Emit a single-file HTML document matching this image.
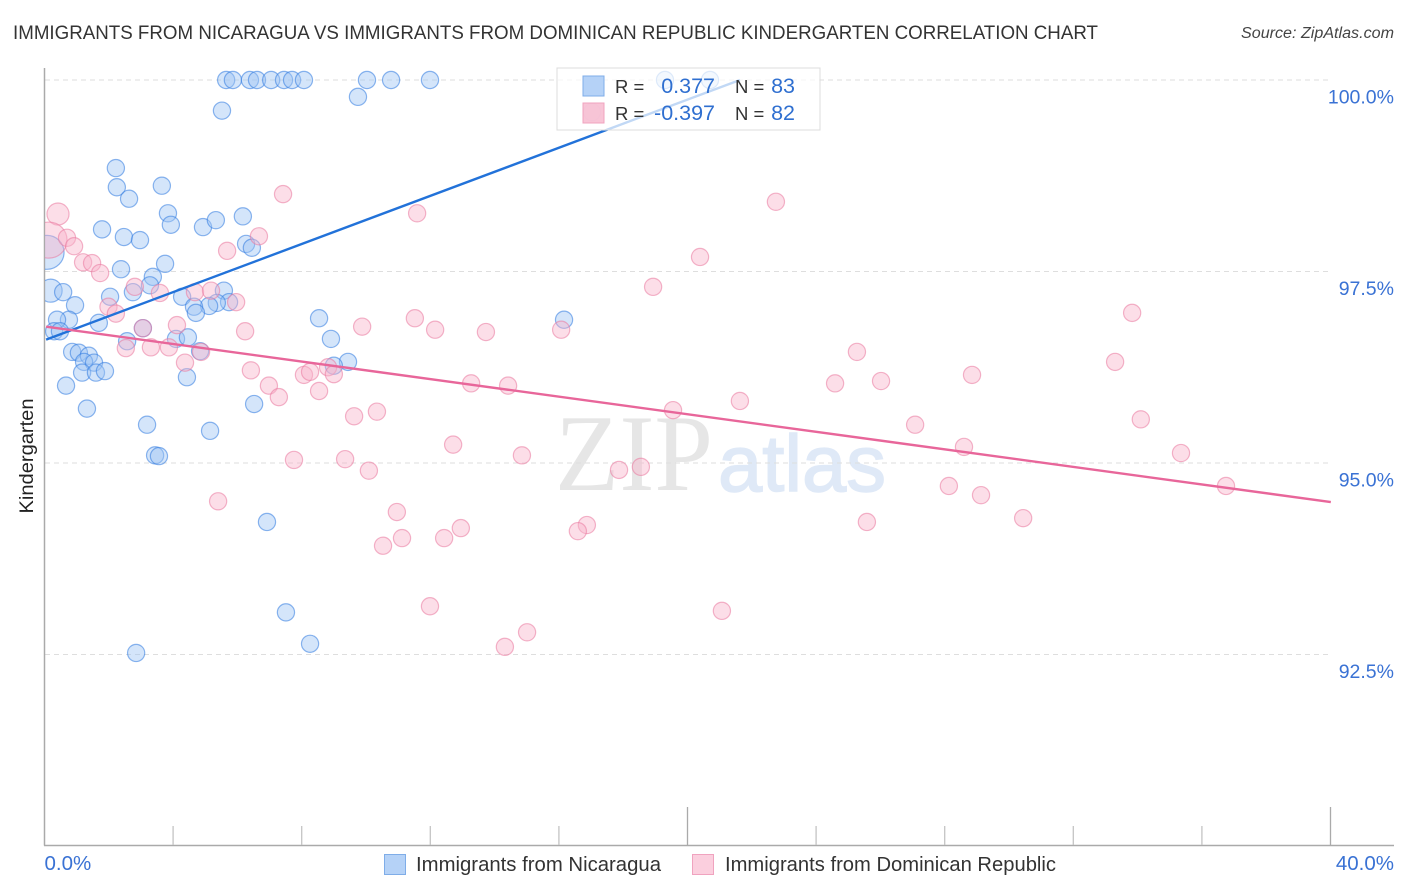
<!DOCTYPE html>
<html lang="en">
<head>
<meta charset="utf-8">
<title>Immigrants from Nicaragua vs Immigrants from Dominican Republic Kindergarten Correlation Chart</title>
<style>
html,body{margin:0;padding:0;background:#fff;width:1406px;height:892px;overflow:hidden}
svg{display:block;font-family:"Liberation Sans",sans-serif}
</style>
</head>
<body>
<svg id="chart" xmlns="http://www.w3.org/2000/svg" width="1406" height="892" viewBox="0 0 1406 892">
  <defs><clipPath id="plot-clip"><rect x="45" y="60" width="1349" height="785"/></clipPath></defs>
  <text x="13" y="39" font-size="19.5" fill="#333" textLength="1085" lengthAdjust="spacingAndGlyphs">IMMIGRANTS FROM NICARAGUA VS IMMIGRANTS FROM DOMINICAN REPUBLIC KINDERGARTEN CORRELATION CHART</text>
  <text x="1241" y="38" font-size="15.5" font-style="italic" fill="#444" textLength="153" lengthAdjust="spacingAndGlyphs">Source: ZipAtlas.com</text>
  <g id="watermark">
    <text x="555" y="490" font-family="'Liberation Serif',serif" font-size="109" fill="#e6e6e6" textLength="158" lengthAdjust="spacingAndGlyphs">ZIP</text>
    <text x="718" y="491" font-size="80" fill="#dfe9f7" stroke="#dfe9f7" stroke-width="1.5" textLength="168" lengthAdjust="spacingAndGlyphs">atlas</text>
  </g>
  <g id="grid"></g>
  <g id="axes"></g>
  <g id="points" clip-path="url(#plot-clip)"></g>
  <g id="trends"></g>
  <text transform="translate(33,456) rotate(-90)" font-size="19.5" fill="#222" text-anchor="middle" textLength="115" lengthAdjust="spacingAndGlyphs">Kindergarten</text>
  <g>
    <rect x="557" y="68" width="263" height="62" fill="#fff" fill-opacity="0.72" stroke="#dcdcdc" stroke-width="1"/>
    <rect x="583" y="76" width="21" height="20" fill="#b5d2f7" stroke="#7fade8" stroke-width="1"/>
    <rect x="583" y="103" width="21" height="20" fill="#f7bed2" fill-opacity="0.9" stroke="#f0a3bf" stroke-width="1"/>
    <g font-size="20">
      <text x="615" y="93" fill="#333" font-size="18.5">R =</text>
      <text x="715" y="93" fill="#2f6fd0" text-anchor="end" font-size="21.5">0.377</text>
      <text x="735" y="93" fill="#333" font-size="18.5">N =</text>
      <text x="795" y="93" fill="#2f6fd0" text-anchor="end" font-size="21.5">83</text>
      <text x="615" y="120" fill="#333" font-size="18.5">R =</text>
      <text x="715" y="120" fill="#2f6fd0" text-anchor="end" font-size="21.5">-0.397</text>
      <text x="735" y="120" fill="#333" font-size="18.5">N =</text>
      <text x="795" y="120" fill="#2f6fd0" text-anchor="end" font-size="21.5">82</text>
    </g>
  </g>
  <g>
    <rect x="384.5" y="854.5" width="21" height="20" fill="#b5d2f7" stroke="#7fade8" stroke-width="1"/>
    <text x="416" y="871" font-size="20" fill="#333" textLength="245" lengthAdjust="spacingAndGlyphs">Immigrants from Nicaragua</text>
    <rect x="692.5" y="854.5" width="21" height="20" fill="#fbcfde" stroke="#f0a3bf" stroke-width="1"/>
    <text x="725" y="871" font-size="20" fill="#333" textLength="331" lengthAdjust="spacingAndGlyphs">Immigrants from Dominican Republic</text>
  </g>
</svg>
<script>
const yTickValues = [100, 97.5, 95, 92.5];
const yTickLabels = ["100.0%", "97.5%", "95.0%", "92.5%"];
const xTickValues = [4, 8, 12, 16, 20, 24, 28, 32, 36, 40];
const xMajorTicks = [20, 40];
const xEndValues = [0, 40];
const xEndLabels = ["0.0%", "40.0%"];

const nicaraguaX = [5.65,5.86,6.39,6.61,7.05,7.45,7.70,8.07,10.03,10.78,11.99,9.75,5.52,2.22,2.25,2.63,3.65,3.84,3.93,1.79,2.47,2.97,4.93,5.33,6.17,6.27,6.45,2.38,3.75,3.37,3.28,2.75,2.04,4.28,5.58,5.74,5.36,5.12,4.65,4.71,0.95,0.58,0.76,0.39,1.69,0.30,0.48,3.06,2.57,4.09,4.46,8.54,8.91,16.16,0.86,1.07,1.38,1.23,1.54,1.17,1.60,1.88,4.84,4.43,0.67,1.32,3.19,5.15,3.44,3.56,6.52,9.44,9.00,6.92,7.51,8.26,2.85,19.30,20.70,17.03];
const nicaraguaY = [100,100,100,100,100,100,100,100,100,100,100,99.78,99.60,98.85,98.60,98.45,98.62,98.26,98.11,98.05,97.95,97.91,98.08,98.17,98.22,97.86,97.81,97.53,97.60,97.43,97.32,97.23,97.17,97.17,97.25,97.10,97.09,97.05,97.04,96.96,97.06,97.23,96.87,96.87,96.83,96.72,96.72,96.76,96.59,96.62,96.64,96.89,96.62,96.87,96.45,96.44,96.40,96.32,96.31,96.18,96.18,96.20,96.46,96.12,96.01,95.71,95.50,95.42,95.10,95.09,95.77,96.32,96.27,94.23,93.05,92.64,92.52,100,100,99.58];
const nicaraguaHeavyX = [0.08,0.19];
const nicaraguaHeavyY = [97.75,97.25];
const nicaraguaHeavyWeight = [3.9,1.8];

const dominicanX = [7.42,0.70,0.92,1.20,1.48,1.73,11.59,22.75,6.67,5.68,20.39,18.93,2.81,3.59,4.68,5.18,5.96,1.99,2.22,3.06,4.12,6.24,9.88,11.52,12.15,13.73,16.07,33.83,2.53,3.31,3.87,4.87,4.37,6.42,8.07,8.26,8.82,9.00,6.98,7.29,8.54,13.27,14.42,24.59,26.02,25.27,28.85,33.30,21.63,19.55,9.63,10.34,34.10,27.08,28.60,12.71,14.85,7.76,9.35,10.09,17.87,18.55,35.35,28.13,36.75,29.13,5.40,10.96,30.44,25.58,12.95,16.87,16.59,11.12,12.43,10.53,11.99,21.07,15.01,14.32];
const dominicanY = [98.51,97.94,97.83,97.62,97.61,97.48,98.26,98.41,97.96,97.77,97.69,97.30,97.30,97.22,97.23,97.25,97.10,97.04,96.95,96.76,96.80,96.72,96.78,96.89,96.74,96.71,96.74,96.96,96.50,96.51,96.51,96.45,96.31,96.21,96.15,96.19,96.25,96.16,96.01,95.86,95.94,96.04,96.01,96.04,96.07,96.45,96.15,96.32,95.81,95.69,95.61,95.67,95.57,95.50,95.21,95.24,95.10,95.04,95.05,94.90,94.91,94.95,95.13,94.70,94.70,94.58,94.50,94.36,94.28,94.23,94.15,94.19,94.11,94.02,94.02,93.92,93.13,93.07,92.79,92.60];
const dominicanHeavyX = [0.42,0.14];
const dominicanHeavyY = [98.25,97.91];
const dominicanHeavyWeight = [1.65,4.4];

const nicaraguaTrendX = [0.05,21.63];
const nicaraguaTrendY = [96.61,100];
const dominicanTrendX = [0.05,40.01];
const dominicanTrendY = [96.78,94.49];

const SVGNS = "http://www.w3.org/2000/svg";
function xScale(v){ return 44.5 + v * 32.15; }
function yScale(v){ return 80 + (100 - v) * 76.6; }
function make(tag, attrs, parent){
  const el = document.createElementNS(SVGNS, tag);
  for (const k in attrs) el.setAttribute(k, attrs[k]);
  parent.appendChild(el);
  return el;
}
const grid = document.getElementById("grid");
const axes = document.getElementById("axes");
const pts = document.getElementById("points");
const trends = document.getElementById("trends");

yTickValues.forEach(function(v, i){
  const g = make("line", {x1:45, x2:1331, y1:yScale(v), y2:yScale(v), stroke:"#dedede", "stroke-width":1, "stroke-dasharray":"5 4"}, grid);
  
  
  const t = make("text", {x:1394, y:yScale(v)+23.5, "font-size":19.5, fill:"#3a72d4", "text-anchor":"end"}, axes);
  t.textContent = yTickLabels[i];
  
  
});

const yAxis = make("line", {x1:44.5, x2:44.5, y1:68, y2:845.5, stroke:"#aaa", "stroke-width":1.5}, axes);


const xAxis = make("line", {x1:44, x2:1394, y1:845.5, y2:845.5, stroke:"#aaa", "stroke-width":1.5}, axes);



xTickValues.forEach(function(v){
  const major = xMajorTicks.indexOf(v) >= 0;
  const tick = make("line", {x1:xScale(v), x2:xScale(v), y1:major?807:826, y2:845, stroke:major?"#aaa":"#c4c4c4", "stroke-width":1.3}, axes);
  
  
});

xEndValues.forEach(function(v, i){
  const lab = make("text", {x:i===0?xScale(v):1394, y:870, "font-size":20.5, fill:"#3a72d4", "text-anchor":i===0?"start":"end"}, axes);
  lab.textContent = xEndLabels[i];
  
  
});

function drawPoint(x, y, w, fill, stroke){
  const c = make("circle", {cx:xScale(x), cy:yScale(y), r:8.6*Math.sqrt(w), fill:fill, "fill-opacity":0.44, stroke:stroke, "stroke-opacity":0.55, "stroke-width":1.2}, pts);
  return c;
}
nicaraguaHeavyX.forEach(function(x, i){
  const c = drawPoint(x, nicaraguaHeavyY[i], nicaraguaHeavyWeight[i], "#9cc3f3", "#2f7ae0");
  
  
});
nicaraguaX.forEach(function(x, i){
  const c = drawPoint(x, nicaraguaY[i], 1, "#9cc3f3", "#2f7ae0");
  
  
});
dominicanHeavyX.forEach(function(x, i){
  const c = drawPoint(x, dominicanHeavyY[i], dominicanHeavyWeight[i], "#f8b3ca", "#e9799f");
  
  
});
dominicanX.forEach(function(x, i){
  const c = drawPoint(x, dominicanY[i], 1, "#f8b3ca", "#e9799f");
  
  
});

const blueTrend = make("line", {x1:xScale(nicaraguaTrendX[0]), y1:yScale(nicaraguaTrendY[0]), x2:xScale(nicaraguaTrendX[1]), y2:yScale(nicaraguaTrendY[1]), stroke:"#2272d9", "stroke-width":2.4}, trends);


const pinkTrend = make("line", {x1:xScale(dominicanTrendX[0]), y1:yScale(dominicanTrendY[0]), x2:xScale(dominicanTrendX[1]), y2:yScale(dominicanTrendY[1]), stroke:"#e8669a", "stroke-width":2.4}, trends);


</script>
</body>
</html>
